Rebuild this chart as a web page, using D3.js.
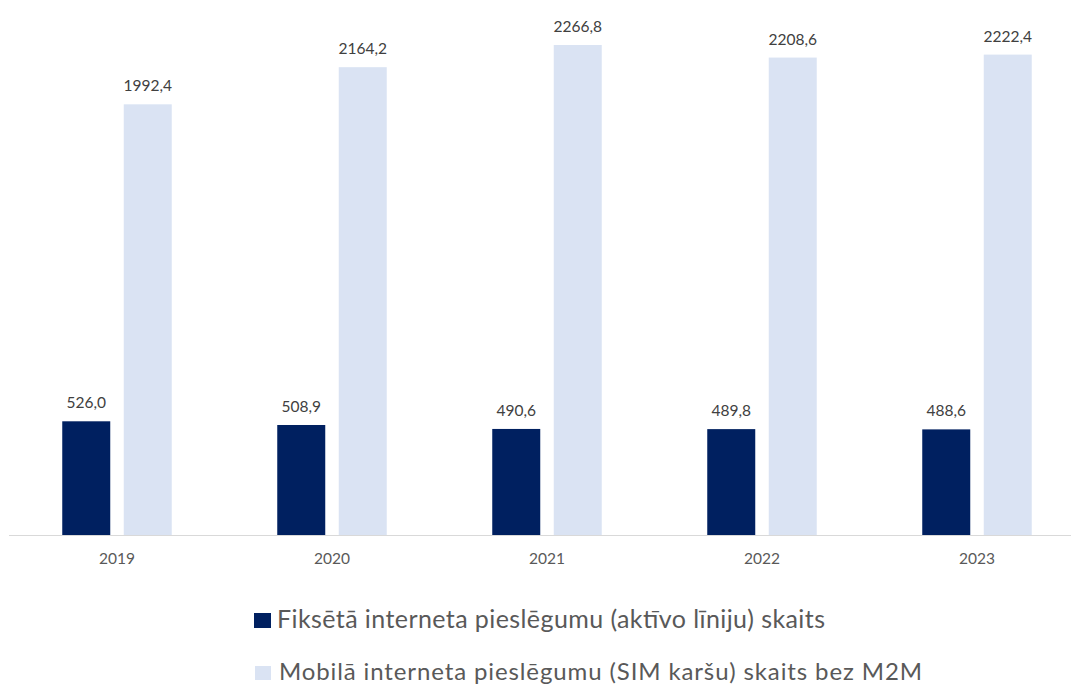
<!DOCTYPE html>
<html><head><meta charset="utf-8">
<script src="https://cdn.jsdelivr.net/npm/d3@7"></script>
<style>body{margin:0;background:#fff}svg{display:block}</style>
</head><body>
<svg id="c" width="1071" height="684"></svg>
<script>
const years = ["2019","2020","2021","2022","2023"];
const fixed = [526.0, 508.9, 490.6, 489.8, 488.6];
const mobile = [1992.4, 2164.2, 2266.8, 2208.6, 2222.4];
const seriesNames = ["Fiksētā interneta pieslēgumu (aktīvo līniju) skaits","Mobilā interneta pieslēgumu (SIM karšu) skaits bez M2M"];
const colors = ["#002060","#DAE3F3"];

const svg = d3.select("#c");
const font = "Lato, 'Open Sans', sans-serif";
const x = d3.scaleBand().domain(years).range([9.5,1084.5]);
const y = d3.scaleLinear().domain([0,2266.8]).range([535,45]);
const bw = 48, off = 30.75;
const fmt = v => v.toFixed(1).replace(".", ",");

const series = [fixed, mobile];
series.forEach((vals, si) => {
  const g = svg.append("g");
  g.selectAll("rect").data(vals).join("rect")
    .attr("x", (d,i) => x(years[i]) + x.bandwidth()/2 + (si===0?-off:off) - bw/2)
    .attr("y", d => y(d)).attr("width", bw).attr("height", d => y(0)-y(d))
    .attr("fill", colors[si]);
  g.selectAll("text").data(vals).join("text")
    .attr("x", (d,i) => x(years[i]) + x.bandwidth()/2 + (si===0?-off:off))
    .attr("y", d => y(d) - 13)
    .attr("text-anchor","middle").attr("font-family",font).attr("font-size",15.5)
    .attr("fill","#404040").text(fmt);
});
svg.append("line").attr("x1",9).attr("x2",1071).attr("y1",535.5).attr("y2",535.5)
  .attr("stroke","#D9D9D9").attr("stroke-width",1);
svg.append("g").selectAll("text").data(years).join("text")
  .attr("x", d => x(d)+x.bandwidth()/2).attr("y",564)
  .attr("text-anchor","middle").attr("font-family",font).attr("font-size",15.5)
  .attr("fill","#595959").text(d=>d);

const leg = svg.append("g");
const legRows = [
  {sq:[254,613,17,15], tx:277, base:628, size:25, len:548},
  {sq:[255,666,16,14], tx:279, base:680, size:24, len:643}
];
seriesNames.forEach((n,i)=>{
  const r = legRows[i];
  leg.append("rect").attr("x",r.sq[0]).attr("y",r.sq[1]).attr("width",r.sq[2]).attr("height",r.sq[3]).attr("fill",colors[i]);
  leg.append("text").attr("x",r.tx).attr("y",r.base).attr("font-family",font).attr("font-size",r.size)
    .attr("textLength",r.len).attr("lengthAdjust","spacing")
    .attr("fill","#595959").text(n);
});
</script>
</body></html>
